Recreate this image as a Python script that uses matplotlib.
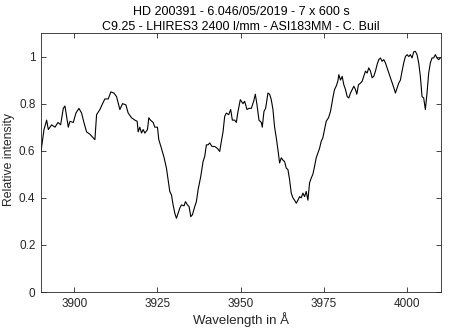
import matplotlib
matplotlib.use("Agg")
import matplotlib.pyplot as plt
from matplotlib.ticker import FuncFormatter

# Spectrum (wavelength in Angstrom, relative intensity)
wavelength = [
    3890.0, 3890.9, 3891.7, 3892.2, 3893.2, 3894.2, 3895.1, 3895.9, 3896.7, 3897.2,
    3898.2, 3898.7, 3899.7, 3900.5, 3901.4, 3902.2, 3902.9, 3903.7, 3904.7, 3905.7,
    3906.2, 3906.7, 3907.7, 3908.5, 3909.2, 3910.2, 3911.0, 3911.9, 3912.7, 3913.7,
    3914.5, 3915.5, 3916.2, 3917.2, 3918.2, 3918.9, 3919.2, 3919.7, 3920.2, 3920.7,
    3921.2, 3922.0, 3922.4, 3922.9, 3923.7, 3924.2, 3925.0, 3925.4, 3926.2, 3927.0,
    3927.7, 3928.2, 3928.7, 3929.2, 3929.7, 3930.2, 3930.7, 3931.2, 3931.7, 3932.2,
    3933.0, 3933.4, 3934.0, 3934.5, 3935.0, 3935.5, 3936.2, 3936.7, 3937.2, 3938.0,
    3938.7, 3939.2, 3939.7, 3940.2, 3940.7, 3941.4, 3942.2, 3943.0, 3943.7, 3944.2,
    3944.7, 3945.2, 3945.7, 3946.4, 3947.0, 3947.5, 3948.2, 3948.7, 3949.2, 3949.9,
    3950.7, 3951.2, 3951.9, 3952.5, 3953.2, 3953.9, 3954.4, 3954.9, 3955.5, 3956.2,
    3956.5, 3957.0, 3957.5, 3958.2, 3958.7, 3959.2, 3959.7, 3960.2, 3960.7, 3961.2,
    3961.7, 3962.2, 3962.7, 3963.2, 3963.7, 3964.2, 3964.7, 3965.2, 3965.7, 3966.2,
    3966.7, 3967.2, 3967.7, 3968.2, 3968.7, 3969.2, 3969.7, 3970.2, 3970.7, 3971.2,
    3971.7, 3972.2, 3972.7, 3973.2, 3973.7, 3974.2, 3974.7, 3975.2, 3975.7, 3976.4,
    3977.0, 3977.7, 3978.2, 3978.7, 3979.2, 3979.5, 3980.0, 3980.5, 3981.0, 3981.5,
    3982.0, 3982.5, 3983.0, 3983.5, 3984.0, 3984.5, 3984.9, 3985.4, 3986.0, 3986.5,
    3987.0, 3987.5, 3988.0, 3988.5, 3989.0, 3989.5, 3990.0, 3990.5, 3991.0, 3991.5,
    3992.0, 3992.5, 3993.0, 3993.5, 3994.0, 3994.5, 3995.0, 3995.7, 3996.2, 3996.5,
    3997.0, 3997.5, 3998.0, 3998.5, 3999.0, 3999.5, 4000.0, 4000.5, 4001.0, 4001.5,
    4002.0, 4002.5, 4003.0, 4003.5, 4004.0, 4004.5, 4005.0, 4005.5, 4006.0, 4006.5,
    4007.0, 4007.5, 4008.0, 4008.5, 4009.0, 4009.5, 4010.0,
]
intensity = [
    0.597, 0.69, 0.73, 0.69, 0.71, 0.70, 0.72, 0.71, 0.78, 0.79,
    0.70, 0.725, 0.72, 0.76, 0.78, 0.76, 0.72, 0.68, 0.67, 0.655,
    0.647, 0.753, 0.775, 0.80, 0.82, 0.82, 0.85, 0.845, 0.83, 0.775,
    0.80, 0.795, 0.76, 0.74, 0.73, 0.725, 0.68, 0.70, 0.675, 0.69,
    0.675, 0.69, 0.74, 0.73, 0.72, 0.70, 0.70, 0.647, 0.61, 0.57,
    0.526, 0.477, 0.427, 0.413, 0.37, 0.335, 0.313, 0.335, 0.356, 0.37,
    0.366, 0.384, 0.37, 0.363, 0.32, 0.328, 0.363, 0.384, 0.434, 0.49,
    0.554, 0.576, 0.625, 0.625, 0.633, 0.618, 0.618, 0.61, 0.597, 0.64,
    0.68, 0.746, 0.76, 0.753, 0.775, 0.73, 0.73, 0.72, 0.767, 0.817,
    0.80, 0.81, 0.775, 0.78, 0.78, 0.81, 0.84, 0.796, 0.73, 0.72,
    0.70, 0.767, 0.78, 0.845, 0.84, 0.817, 0.775, 0.70, 0.655, 0.604,
    0.548, 0.57, 0.56, 0.554, 0.526, 0.52, 0.477, 0.42, 0.40, 0.39,
    0.377, 0.39, 0.405, 0.40, 0.42, 0.405, 0.427, 0.39, 0.463, 0.484,
    0.50, 0.533, 0.57, 0.59, 0.61, 0.64, 0.655, 0.69, 0.725, 0.74,
    0.767, 0.824, 0.86, 0.874, 0.895, 0.923, 0.90, 0.916, 0.88, 0.86,
    0.83, 0.824, 0.845, 0.86, 0.874, 0.86, 0.84, 0.88, 0.887, 0.895,
    0.916, 0.938, 0.93, 0.952, 0.938, 0.91, 0.916, 0.938, 0.966, 0.987,
    0.994, 0.98, 0.987, 0.973, 0.952, 0.93, 0.91, 0.88, 0.86, 0.845,
    0.866, 0.887, 0.90, 0.938, 0.973, 1.0, 1.008, 1.0, 1.008, 0.994,
    1.02, 1.022, 1.008, 0.973, 0.916, 0.83, 0.824, 0.775, 0.845, 0.93,
    0.973, 0.994, 0.994, 1.008, 0.994, 0.987, 0.994,
]

x_ticks = [3900, 3925, 3950, 3975, 4000]
y_ticks = [0, 0.2, 0.4, 0.6, 0.8, 1.0]

plt.rcParams['font.family'] = ['Liberation Sans', 'DejaVu Sans']
axis_grey = '#262626'

fig = plt.figure(figsize=(4.5, 3.33), dpi=100)
ax = fig.add_axes([0.0911, 0.1231, 0.8889, 0.7778])

ax.plot(wavelength, intensity, color='black', linewidth=0.8)

ax.set_xlim(3890, 4010.2)
ax.set_ylim(0, 1.1)
ax.set_xticks(x_ticks)
ax.set_yticks(y_ticks)
ax.yaxis.set_major_formatter(FuncFormatter(lambda v, p: '%g' % v))

ax.tick_params(direction='in', top=True, right=True, length=3.5, width=0.6,
               labelsize=8.5, colors=axis_grey, pad=4)
for spine in ax.spines.values():
    spine.set_linewidth(0.6)
    spine.set_color(axis_grey)

ax.set_xlabel('Wavelength in Å', fontsize=9.5, color=axis_grey, labelpad=2)
ax.set_ylabel('Relative intensity', fontsize=8.8, color=axis_grey)
ax.yaxis.set_label_coords(-0.066, 0.51)
ax.set_title('HD 200391 - 6.046/05/2019 - 7 x 600 s\n'
             'C9.25 - LHIRES3 2400 l/mm - ASI183MM - C. Buil',
             fontsize=9, color='black', pad=2, linespacing=1.35)

fig.savefig('out.png', dpi=100)
